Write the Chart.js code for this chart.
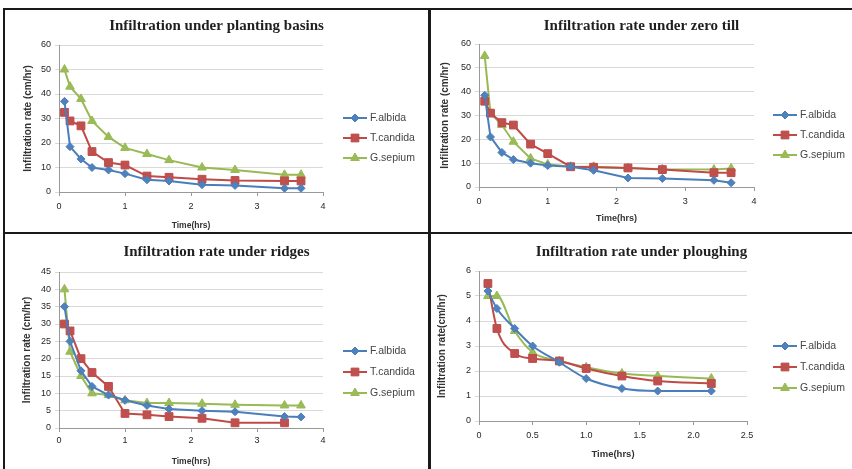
<!DOCTYPE html>
<html>
<head>
<meta charset="utf-8">
<script src="https://cdn.jsdelivr.net/npm/chart.js@4/dist/chart.umd.min.js"></script>
<style>
  body { margin: 0; background: #fff; width: 852px; height: 469px; overflow: hidden; position: relative; }
  canvas { position: absolute; }
  .rule { position: absolute; background: #1a1a1a; }
</style>
</head>
<body>
<div class="rule" style="left:3px;top:8px;width:849px;height:2px"></div>
<div class="rule" style="left:3px;top:8px;width:2px;height:461px"></div>
<div class="rule" style="left:428px;top:8px;width:3px;height:461px"></div>
<div class="rule" style="left:3px;top:232px;width:849px;height:2px"></div>

<canvas id="basins" width="423" height="222" style="left:5px;top:10px"></canvas>
<canvas id="zeroTill" width="421" height="222" style="left:431px;top:10px"></canvas>
<canvas id="ridges" width="423" height="235" style="left:5px;top:234px"></canvas>
<canvas id="plough" width="421" height="235" style="left:431px;top:234px"></canvas>

<script>
// time of each reading (hrs)
let timeHrs = [0.083, 0.167, 0.333, 0.5, 0.75, 1, 1.333, 1.667, 2.167, 2.667, 3.417, 3.667];
let ploughTimeHrs = [0.083, 0.167, 0.333, 0.5, 0.75, 1, 1.333, 1.667, 2.167];

let treeNames = ["F.albida", "T.candida", "G.sepium"];

// infiltration rate (cm/hr)
let basinsAlbida = [37, 18.5, 13.5, 10, 9, 7.5, 5, 4.5, 3, 2.7, 1.5, 1.5];
let basinsCandida = [32.5, 29, 27, 16.5, 12, 11, 6.5, 6, 5.2, 4.7, 4.5, 4.5];
let basinsSepium = [50, 43, 38, 29, 22.5, 18, 15.5, 13, 10, 9, 7, 7];

let zeroAlbida = [38.5, 21, 14.5, 11.5, 10, 9, 8.5, 7, 3.8, 3.6, 2.8, 1.8];
let zeroCandida = [36, 31, 27, 26, 18, 14, 8.5, 8.3, 8, 7.3, 6, 6];
let zeroSepium = [55, 31, 26, 19, 12, 9.5, 8.5, 8.5, 8, 7.5, 7.3, 7.8];

let ridgesAlbida = [35, 25, 16.5, 12, 9.5, 8, 6.5, 5.5, 5, 4.7, 3.3, 3.2];
let ridgesCandida = [30, 28, 20, 16, 12, 4.2, 3.8, 3.3, 2.8, 1.5, 1.5, null];
let ridgesSepium = [40, 22, 15, 10, 9.5, 8, 7.2, 7.2, 7, 6.7, 6.5, 6.5];

let ploughAlbida = [5.2, 4.5, 3.7, 3.0, 2.35, 1.7, 1.3, 1.2, 1.2];
let ploughCandida = [5.5, 3.7, 2.7, 2.5, 2.4, 2.1, 1.8, 1.6, 1.5];
let ploughSepium = [5.0, 5.0, 3.6, 2.75, 2.4, 2.15, 1.9, 1.8, 1.7];

let lineColors = ["#4A7EBB", "#BE4B48", "#98B954"];
let markerColors = ["#4F81BD", "#C0504D", "#9BBB59"];
let markers = ["rectRot", "rect", "triangle"];
let markerSizes = [4, 5.5, 5];

// draws the title and the Excel-style legend (line + marker)
const panelDecor = {
    id: "panelDecor",
    afterDraw(chart, args, opts) {
        let ctx = chart.ctx;
        ctx.save();
        ctx.fillStyle = "#1f1f1f";
        ctx.font = "bold 15px 'Liberation Serif'";
        ctx.textAlign = "center";
        ctx.textBaseline = "middle";
        ctx.fillText(opts.title, chart.width / 2, opts.titleY);

        chart.data.datasets.forEach((ds, i) => {
            let x = opts.legendX;
            let y = opts.legendY + i * opts.legendGap;
            ctx.strokeStyle = lineColors[i];
            ctx.lineWidth = 2;
            ctx.beginPath();
            ctx.moveTo(x, y);
            ctx.lineTo(x + 24, y);
            ctx.stroke();
            ctx.fillStyle = markerColors[i];
            ctx.lineWidth = 1;
            Chart.helpers.drawPoint(ctx, { pointStyle: markers[i], radius: markerSizes[i], rotation: 0, borderWidth: 1 }, x + 12, y);
            ctx.fillStyle = "#444";
            ctx.font = "10.5px 'Liberation Sans'";
            ctx.textAlign = "left";
            ctx.fillText(ds.label, x + 27, y);
        });
        ctx.restore();
    }
};

function makePanel(id, times, series, p) {
    let datasets = series.map((vals, i) => ({
        label: treeNames[i],
        data: times.map((t, j) => ({ x: t, y: vals[j] })),
        showLine: true,
        borderColor: lineColors[i],
        backgroundColor: markerColors[i],
        borderWidth: 2,
        pointStyle: markers[i],
        pointRadius: markerSizes[i],
        pointBorderColor: lineColors[i],
        pointBorderWidth: 1,
        cubicInterpolationMode: p.smooth ? "monotone" : "default",
        tension: 0
    }));

    new Chart(document.getElementById(id), {
        type: "scatter",
        data: { datasets: datasets },
        options: {
            responsive: false,
            animation: false,
            layout: { autoPadding: false, padding: p.padding },
            plugins: {
                legend: { display: false },
                tooltip: { enabled: false },
                panelDecor: p.decor
            },
            scales: {
                x: {
                    type: "linear",
                    min: 0, max: p.xMax,
                    ticks: { stepSize: p.xStep, color: "#262626", font: { family: "Liberation Sans", size: 9 }, padding: p.xTickPad },
                    grid: { drawOnChartArea: false, tickLength: 4, color: "#999" },
                    border: { color: "#999" },
                    title: { display: true, text: "Time(hrs)", color: "#333", font: { family: "Liberation Sans", size: p.xTitleSize, weight: "bold" }, padding: 0 },
                    afterFit: s => { s.height = p.xHeight; }
                },
                y: {
                    min: 0, max: p.yMax,
                    ticks: { stepSize: p.yStep, color: "#262626", font: { family: "Liberation Sans", size: 9 }, padding: 4 },
                    grid: { color: "#d9d9d9", tickLength: 4 },
                    border: { color: "#999" },
                    title: { display: true, text: p.yTitle, color: "#333", font: { family: "Liberation Sans", size: 10, weight: "bold" }, padding: 0 },
                    afterFit: s => { s.width = p.yWidth; }
                }
            }
        },
        plugins: [panelDecor]
    });
}

makePanel("basins", timeHrs, [basinsAlbida, basinsCandida, basinsSepium], {
    xMax: 4, xStep: 1, yMax: 60, yStep: 10,
    yTitle: "Infiltration rate (cm/hr)",
    padding: { left: 17, right: 105, top: 35, bottom: 1 },
    yWidth: 37, xHeight: 39, xTickPad: 5, xTitleSize: 8.5,
    decor: { title: "Infiltration under planting basins", titleY: 16, legendX: 338, legendY: 108, legendGap: 20 }
});

makePanel("zeroTill", timeHrs, [zeroAlbida, zeroCandida, zeroSepium], {
    xMax: 4, xStep: 1, yMax: 60, yStep: 10,
    yTitle: "Infiltration rate (cm/hr)",
    padding: { left: 8, right: 98, top: 34, bottom: 8 },
    yWidth: 40, xHeight: 37, xTickPad: 5, xTitleSize: 9,
    decor: { title: "Infiltration rate under zero till", titleY: 16, legendX: 342, legendY: 105, legendGap: 20 }
});

makePanel("ridges", timeHrs, [ridgesAlbida, ridgesCandida, ridgesSepium], {
    xMax: 4, xStep: 1, yMax: 45, yStep: 5,
    yTitle: "Infiltration rate (cm/hr)",
    padding: { left: 16, right: 105, top: 38, bottom: 2 },
    yWidth: 38, xHeight: 39, xTickPad: 3, xTitleSize: 8.5,
    decor: { title: "Infiltration rate under ridges", titleY: 18, legendX: 338, legendY: 117, legendGap: 21 }
});

makePanel("plough", ploughTimeHrs, [ploughAlbida, ploughCandida, ploughSepium], {
    xMax: 2.5, xStep: 0.5, yMax: 6, yStep: 1, smooth: true,
    yTitle: "Infiltration rate(cm/hr)",
    padding: { left: 5, right: 105, top: 37, bottom: 9 },
    yWidth: 43, xHeight: 39, xTickPad: 5, xTitleSize: 9.5,
    decor: { title: "Infiltration rate under ploughing", titleY: 18, legendX: 342, legendY: 112, legendGap: 21 }
});
</script>
</body>
</html>
